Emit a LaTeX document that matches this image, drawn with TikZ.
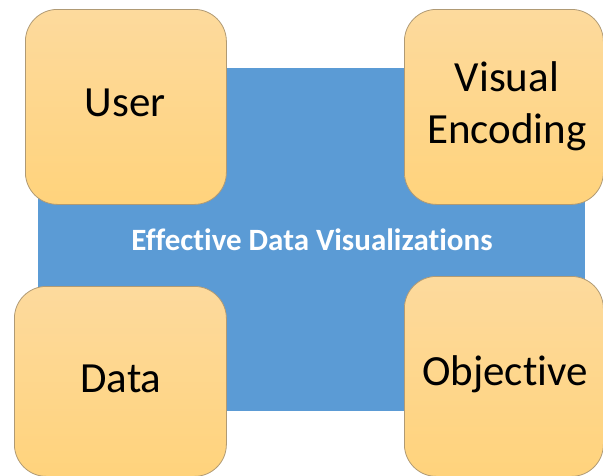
\documentclass[tikz,border=0pt]{standalone}
\usepackage{fontspec}
\setmainfont[Ligatures=NoCommon]{Carlito}
\usetikzlibrary{positioning}
\definecolor{bluebg}{HTML}{5B9BD5}
\definecolor{goldtop}{HTML}{FDDA9D}
\definecolor{goldbot}{HTML}{FFD37C}
\definecolor{goldline}{HTML}{B09A74}
\tikzset{
  card/.style={draw=goldline, line width=0.8pt, rounded corners=32pt,
    top color=goldtop, bottom color=goldbot, anchor=north west,
    inner sep=0pt},
  cardtext/.style={font=\fontsize{43}{52}\selectfont, text=black, align=center},
  panel/.style={fill=bluebg, draw=none, anchor=north west, inner sep=0pt},
}
\begin{document}
\begin{tikzpicture}[x=1pt,y=-1pt]
\useasboundingbox (0,0) rectangle (603,475);
\node[panel, minimum width=547pt, minimum height=343pt] (panel) at (38,68) {};
\node[font=\bfseries\fontsize{31}{34}\selectfont, text=white] (title) at (312,240) {Effective Data Visualizations};
\node[card, minimum width=201pt, minimum height=195pt] (user) at (25,9) {};
\node[cardtext] (usert) at (125,103) {User};
\node[card, minimum width=199pt, minimum height=195pt] (enc) at (404,9) {};
\node[cardtext] (enct) at (507,106) {Visual\\Encoding};
\node[card, minimum width=212pt, minimum height=190pt] (data) at (14,286) {};
\node[cardtext] (datat) at (121,379) {Data};
\node[card, minimum width=199pt, minimum height=200pt] (obj) at (404,276) {};
\node[cardtext] (objt) at (505,374) {Objective};
\end{tikzpicture}
\end{document}
